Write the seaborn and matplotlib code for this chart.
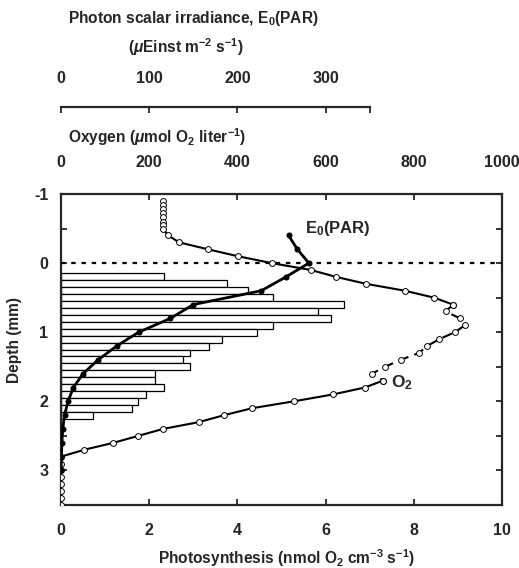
import matplotlib
matplotlib.use("Agg")
import matplotlib.pyplot as plt
import seaborn as sns

# photosynthesis per 0.1 mm layer (nmol O2 cm-3 s-1)
photo_depth = [0.2, 0.3, 0.4, 0.5, 0.6, 0.7, 0.8, 0.9, 1.0, 1.1, 1.2,
               1.3, 1.4, 1.5, 1.6, 1.7, 1.8, 1.9, 2.0, 2.1, 2.2]
photo_rate = [2.33, 3.76, 4.24, 4.81, 6.42, 5.83, 6.12, 4.81, 4.44, 3.65, 3.36,
              2.92, 2.77, 2.92, 2.13, 2.13, 2.34, 1.92, 1.75, 1.61, 0.73]

# oxygen profile (umol O2 per liter)
o2_depth = [-0.9, -0.84, -0.78, -0.72, -0.66, -0.6, -0.55, -0.5,
            -0.4, -0.3, -0.2, -0.1, 0.0, 0.1, 0.2, 0.3, 0.4, 0.5, 0.6,
            0.7, 0.8, 0.9, 1.0, 1.1, 1.2, 1.3, 1.4, 1.5, 1.6, 1.7,
            1.8, 1.9, 2.0, 2.1, 2.2, 2.3, 2.4, 2.5, 2.6, 2.7, 2.8,
            2.9, 3.0, 3.1, 3.2, 3.3, 3.4, 3.5]
o2_conc = [231, 231, 231, 231, 231, 231, 231, 231,
           243, 268, 333, 401, 478, 567, 624, 692, 780, 846, 889,
           872, 905, 916, 893, 858, 830, 812, 770, 735, 705, 730,
           689, 617, 528, 433, 370, 313, 231, 175, 119, 53, 0,
           0, 0, 0, 0, 0, 0, 0]
o2_dashed_from, o2_dashed_to = 0.6, 1.7

# scalar irradiance E0(PAR) (uEinst m-2 s-1)
par_depth = [-0.4, -0.2, 0.0, 0.2, 0.4, 0.6, 0.8, 1.0, 1.2, 1.4, 1.6,
             1.8, 2.0, 2.2, 2.4, 2.6, 2.8, 3.0]
par_value = [258, 268, 281, 255, 227, 150, 124, 88, 63, 42, 25,
             14, 8, 4, 2, 1, 0.5, 0]

sns.set_style("ticks")
plt.rcParams["font.family"] = ["Liberation Sans", "DejaVu Sans"]
plt.rcParams["font.weight"] = "bold"
plt.rcParams["font.size"] = 11.2
plt.rcParams["axes.unicode_minus"] = False
plt.rcParams["mathtext.fontset"] = "custom"
plt.rcParams["mathtext.rm"] = "Liberation Sans:bold"
plt.rcParams["mathtext.bf"] = "Liberation Sans:bold"
plt.rcParams["mathtext.it"] = "Liberation Sans:bold:italic"

W, H = 519, 568
fig = plt.figure(figsize=(W / 100, H / 100), dpi=100)
ax = fig.add_axes([61 / W, 1 - 505 / H, 441 / W, 311 / H])

sns.barplot(x=photo_rate, y=photo_depth, orient="h", native_scale=True,
            width=1.0, color="white", saturation=1, edgecolor="black",
            linewidth=0.9, errorbar=None, ax=ax)
ax.axhline(0, color="black", lw=1.6, ls=(0, (2, 2.6)), zorder=5)

ax.set_xlim(0, 10)
ax.set_xticks([0, 2, 4, 6, 8, 10])
ax.set_yticks([-1, 0, 1, 2, 3])
ax.set_yticks([-0.5, 0.5, 1.5, 2.5], minor=True)
ax.tick_params(axis="x", which="both", direction="in", top=False, length=4,
               width=1.3, pad=13, labelsize=11.5)
ax.tick_params(axis="y", which="both", direction="in", left=True, right=True,
               length=4, width=1.3, pad=9, labelsize=11.5)
ax.set_xlabel("")
ax.set_ylabel("")
for s in ax.spines.values():
    s.set_linewidth(1.6)

# oxygen on the upper axis
ax2 = ax.twiny()
ax2.set_xlim(0, 1000)
solid_top = [(d, c) for d, c in zip(o2_depth, o2_conc) if d <= o2_dashed_from]
dashed = [(d, c) for d, c in zip(o2_depth, o2_conc) if o2_dashed_from <= d <= o2_dashed_to]
solid_bot = [(d, c) for d, c in zip(o2_depth, o2_conc) if d >= o2_dashed_to]
for seg, ls in [(solid_top, "-"), (dashed, (0, (5, 3))), (solid_bot, "-")]:
    sns.lineplot(x=[c for d, c in seg], y=[d for d, c in seg], sort=False,
                 estimator=None, color="black", lw=1.5, linestyle=ls,
                 marker="o", markersize=4.2, markerfacecolor="white",
                 markeredgecolor="black", markeredgewidth=0.7, ax=ax2)
ax2.set_xticks([0, 200, 400, 600, 800, 1000])
ax2.tick_params(axis="x", direction="in", length=4, width=1.3, pad=17,
                labelsize=11.5)
ax2.set_xlabel("")
ax2.set_ylabel("")
for s in ax2.spines.values():
    s.set_visible(False)

# photon scalar irradiance on a detached top axis
ax3 = ax.twiny()
ax3.set_xlim(0, 500)
sns.lineplot(x=par_value, y=par_depth, sort=False, estimator=None,
             color="black", lw=2.0, marker="o", markersize=3.6,
             markerfacecolor="black", markeredgecolor="black", ax=ax3)
for k, s in ax3.spines.items():
    s.set_visible(k == "top")
ax3.spines["top"].set_position(("axes", (505 - 107) / 311))
ax3.spines["top"].set_bounds(0, 350)
ax3.spines["top"].set_linewidth(1.6)
ax3.set_xticks([0, 100, 200, 300, 350])
ax3.set_xticklabels(["0", "100", "200", "300", ""])
ax3.tick_params(axis="x", direction="in", length=4, width=1.3, pad=15,
                labelsize=11.5)
ax3.set_xlabel("")
ax3.set_ylabel("")

ax.set_ylim(3.5, -1)

def ftext(x, y, s, **kw):
    fig.text(x / W, 1 - y / H, s, va="center", **kw)

ftext(68, 18, r"Photon scalar irradiance, E$_0$(PAR)", ha="left")
ftext(128, 47, r"($\mu$Einst m$^{-2}$ s$^{-1}$)", ha="left")
ftext(68, 137, r"Oxygen ($\mu$mol O$_2$ liter$^{-1}$)", ha="left")
ftext(286, 558, r"Photosynthesis (nmol O$_2$ cm$^{-3}$ s$^{-1}$)", ha="center")
ftext(15, 340, "Depth (mm)", ha="center", rotation=90)
ftext(305, 228, r"E$_0$(PAR)", ha="left", fontsize=12)
ftext(391, 383, r"O$_2$", ha="left", fontsize=12.5)

fig.savefig("out.png", dpi=100)
